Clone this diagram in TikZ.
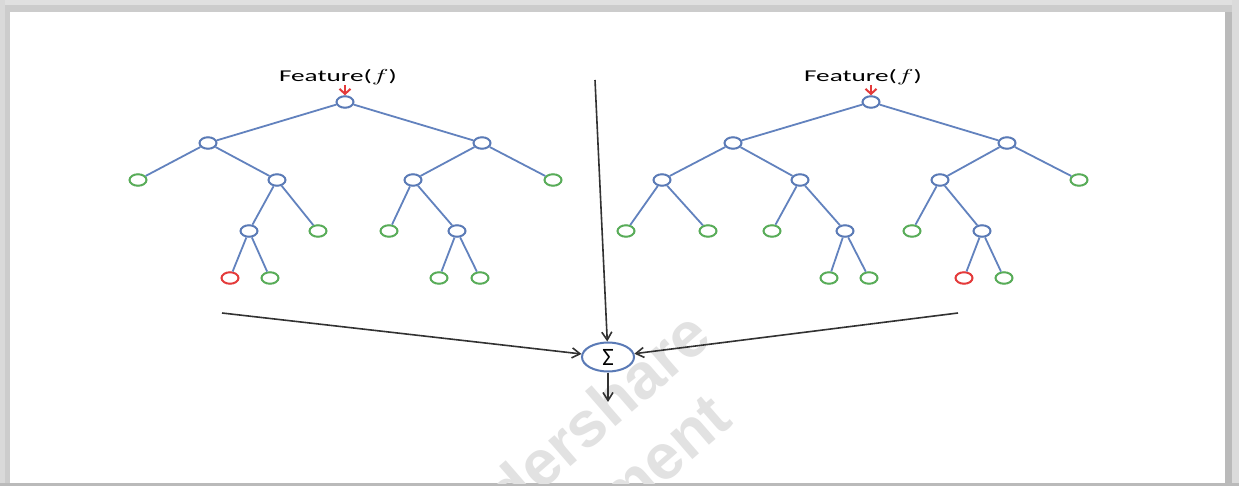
\documentclass[tikz,border=0pt]{standalone}
\usepackage{fontspec}
\usetikzlibrary{shapes.geometric,arrows.meta}
\newfontfamily\carlito{Carlito}
\newfontfamily\wmfont{Liberation Sans}
\definecolor{edgeblue}{RGB}{98,130,190}
\definecolor{nodeblue}{RGB}{90,122,182}
\definecolor{leafgreen}{RGB}{88,172,88}
\definecolor{leafred}{RGB}{228,58,58}
\definecolor{arrowgray}{RGB}{50,50,50}
\definecolor{wmgray}{RGB}{226,226,226}
\tikzset{
  treenode/.style={ellipse, draw, line width=2pt, fill=white, minimum width=17pt, minimum height=11.5pt, inner sep=0pt},
  bn/.style={treenode, draw=nodeblue},
  gn/.style={treenode, draw=leafgreen},
  rn/.style={treenode, draw=leafred},
  tedge/.style={draw=edgeblue, line width=1.8pt},
  sumarrow/.style={draw=arrowgray, line width=1.6pt, -{Straight Barb[length=8pt,width=10pt,line width=1.6pt]}},
  featlabel/.style={inner sep=0pt, font=\carlito\fontsize{16.5}{18}\selectfont},
  redtip/.style={leafred, line width=2pt, -{Straight Barb[length=5pt,width=11pt,line width=2pt]}},
  wmark/.style={text=wmgray, font=\wmfont\bfseries\fontsize{64}{66}\selectfont, rotate=41, inner sep=0pt, anchor=base east}
}
\begin{document}
\begin{tikzpicture}[x=1pt,y=-1pt]
% frame
\useasboundingbox (0,0) rectangle (1239,486);
\fill[black!20] (0,0) rectangle (1239,486);
\fill[black!12] (0,0) rectangle (1239,5);
\fill[black!15] (0,0) rectangle (5,486);
\fill[black!14] (1232,0) rectangle (1239,486);
\fill[black!27] (1225,12) rectangle (1232,483);
\fill[black!27] (0,483) rectangle (1239,486);
\fill[white] (10,12) rectangle (1225,483);
% watermark
\begin{scope}
\clip (10,12) rectangle (1225,483);
\node[wmark] (wm1) at (715,341) {Wondershare};
\node[wmark] (wm2) at (735,423) {PDFelement};
\end{scope}
% tree 1
\node[bn] (a) at (345,102) {};
\node[bn] (aL) at (208,143) {};
\node[bn] (aR) at (482,143) {};
\node[gn] (aLL) at (138,180) {};
\node[bn] (aLR) at (277,180) {};
\node[bn] (aRL) at (413,180) {};
\node[gn] (aRR) at (553,180) {};
\node[bn] (aLRL) at (249,231) {};
\node[gn] (aLRR) at (318,231) {};
\node[gn] (aRLL) at (389,231) {};
\node[bn] (aRLR) at (457,231) {};
\node[rn] (aLRLL) at (230,278) {};
\node[gn] (aLRLR) at (270,278) {};
\node[gn] (aRLRL) at (439,278) {};
\node[gn] (aRLRR) at (480,278) {};
\foreach \p/\c in {a/aL,a/aR,aL/aLL,aL/aLR,aR/aRL,aR/aRR,aLR/aLRL,aLR/aLRR,aRL/aRLL,aRL/aRLR,aLRL/aLRLL,aLRL/aLRLR,aRLR/aRLRL,aRLR/aRLRR}
  \path[tedge] (\p) -- (\c);
\node[featlabel] (fa) at (338,77) {\scalebox{1.65}[1]{Feature($f$)}};
\coordinate (fat) at (345,85);
\draw[redtip] (fat) -- (a);
% tree 2
\node[bn] (b) at (871,102) {};
\node[bn] (bL) at (733,143) {};
\node[bn] (bR) at (1007,143) {};
\node[bn] (bLL) at (662,180) {};
\node[bn] (bLR) at (800,180) {};
\node[bn] (bRL) at (940,180) {};
\node[gn] (bRR) at (1079,180) {};
\node[gn] (bLLL) at (626,231) {};
\node[gn] (bLLR) at (708,231) {};
\node[gn] (bLRL) at (772,231) {};
\node[bn] (bLRR) at (845,231) {};
\node[gn] (bRLL) at (912,231) {};
\node[bn] (bRLR) at (982,231) {};
\node[gn] (bLRRL) at (829,278) {};
\node[gn] (bLRRR) at (869,278) {};
\node[rn] (bRLRL) at (964,278) {};
\node[gn] (bRLRR) at (1004,278) {};
\foreach \p/\c in {b/bL,b/bR,bL/bLL,bL/bLR,bR/bRL,bR/bRR,bLL/bLLL,bLL/bLLR,bLR/bLRL,bLR/bLRR,bRL/bRLL,bRL/bRLR,bLRR/bLRRL,bLRR/bLRRR,bRLR/bRLRL,bRLR/bRLRR}
  \path[tedge] (\p) -- (\c);
\node[featlabel] (fb) at (863,77) {\scalebox{1.65}[1]{Feature($f$)}};
\coordinate (fbt) at (871,85);
\draw[redtip] (fbt) -- (b);
% sum
\node[ellipse, draw=nodeblue, line width=2pt, fill=white, minimum width=52pt, minimum height=29pt, inner sep=0pt, font=\carlito\fontsize{25}{26}\selectfont] (sig) at (608,357) {Σ};
\coordinate (vtop) at (595,80);
\coordinate (lin) at (222,313);
\coordinate (rin) at (958,313);
\coordinate (outp) at (608,402);
\draw[sumarrow] (vtop) -- (sig);
\draw[sumarrow] (lin) -- (sig);
\draw[sumarrow] (rin) -- (sig);
\draw[sumarrow] (sig) -- (outp);
\end{tikzpicture}
\end{document}
